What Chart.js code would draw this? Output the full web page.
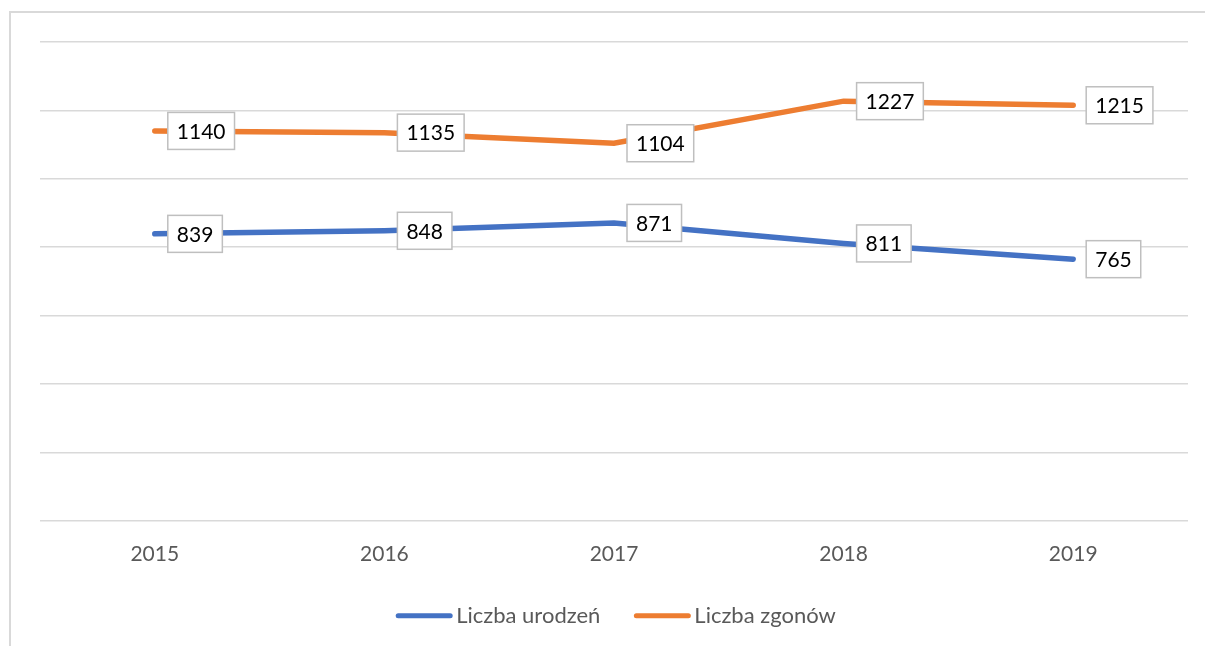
<!DOCTYPE html>
<html>
<head>
<meta charset="utf-8">
<script src="https://cdn.jsdelivr.net/npm/chart.js@4.4.0/dist/chart.umd.min.js"></script>
<style>
  html, body { margin: 0; padding: 0; background: #fff; }
  #wrap { position: relative; width: 1205px; height: 646px; }
  #frame { position: absolute; left: 9px; top: 11px; right: 0; bottom: 0;
           border-top: 2px solid #d9d9d9; border-left: 2px solid #d9d9d9; }
  #chart { position: absolute; left: 0; top: 0; }
</style>
</head>
<body>
<div id="wrap">
  <div id="frame"></div>
  <canvas id="chart" width="1205" height="646"></canvas>
</div>
<script>
  const years = ['2015', '2016', '2017', '2018', '2019'];
  const births = [839, 848, 871, 811, 765];
  const deaths = [1140, 1135, 1104, 1227, 1215];
  const yMax = 1400;
  const yStep = 200;

  const FONT = 'Lato, "Open Sans", sans-serif';

  // value boxes to the right of each point
  const valueBoxes = {
    id: 'valueBoxes',
    afterDatasetsDraw(chart) {
      const ctx = chart.ctx;
      ctx.save();
      ctx.font = '21px ' + FONT;
      ctx.textBaseline = 'middle';
      ctx.textAlign = 'center';
      chart.data.datasets.forEach((ds, i) => {
        const meta = chart.getDatasetMeta(i);
        meta.data.forEach((pt, j) => {
          const txt = String(ds.data[j]);
          const w = ctx.measureText(txt).width + 18;
          const h = 37;
          const x = pt.x + 13;
          const y = pt.y - h / 2;
          ctx.fillStyle = '#fff';
          ctx.fillRect(x, y, w, h);
          ctx.strokeStyle = '#bfbfbf';
          ctx.lineWidth = 1.5;
          ctx.strokeRect(x, y, w, h);
          ctx.fillStyle = '#000';
          ctx.fillText(txt, x + w / 2, pt.y + 1);
        });
      });
      ctx.restore();
    }
  };

  // legend in the Excel style: line sample, small gap, text
  const lineLegend = {
    id: 'lineLegend',
    afterDraw(chart) {
      const ctx = chart.ctx;
      const area = chart.chartArea;
      ctx.save();
      ctx.font = '22px ' + FONT;
      ctx.textBaseline = 'middle';
      const items = chart.data.datasets.map(ds => ({ ds, tw: ctx.measureText(ds.label).width }));
      const lineW = 56, gapText = 4, gapItem = 34;
      let total = 0;
      items.forEach((it, i) => { total += lineW + gapText + it.tw + (i ? gapItem : 0); });
      let x = (area.left + area.right) / 2 + 2 - total / 2;
      const y = area.bottom + 95;
      items.forEach(it => {
        ctx.strokeStyle = it.ds.borderColor;
        ctx.lineWidth = 5;
        ctx.lineCap = 'round';
        ctx.beginPath();
        ctx.moveTo(x + 2, y);
        ctx.lineTo(x + lineW - 2, y);
        ctx.stroke();
        ctx.fillStyle = '#595959';
        ctx.fillText(it.ds.label, x + lineW + gapText, y);
        x += lineW + gapText + it.tw + gapItem;
      });
      ctx.restore();
    }
  };

  new Chart(document.getElementById('chart').getContext('2d'), {
    type: 'line',
    data: {
      labels: years,
      datasets: [
        { label: 'Liczba urodzeń', data: births, borderColor: '#4472C4', backgroundColor: '#4472C4',
          borderWidth: 5.5, borderCapStyle: 'round', pointRadius: 0, tension: 0 },
        { label: 'Liczba zgonów', data: deaths, borderColor: '#ED7D31', backgroundColor: '#ED7D31',
          borderWidth: 5.5, borderCapStyle: 'round', pointRadius: 0, tension: 0 }
      ]
    },
    options: {
      responsive: false,
      animation: false,
      layout: { padding: { left: 40, right: 17, top: 42, bottom: 58 } },
      scales: {
        x: {
          offset: true,
          grid: { display: false, drawTicks: false },
          border: { display: false },
          ticks: { color: '#595959', font: { size: 21, family: FONT }, padding: 21 }
        },
        y: {
          min: 0, max: yMax,
          ticks: { stepSize: yStep, display: false },
          grid: { color: '#d9d9d9', lineWidth: 1.5, drawTicks: false },
          border: { display: false }
        }
      },
      plugins: {
        legend: { display: false },
        tooltip: { enabled: false }
      }
    },
    plugins: [valueBoxes, lineLegend]
  });
</script>
</body>
</html>
